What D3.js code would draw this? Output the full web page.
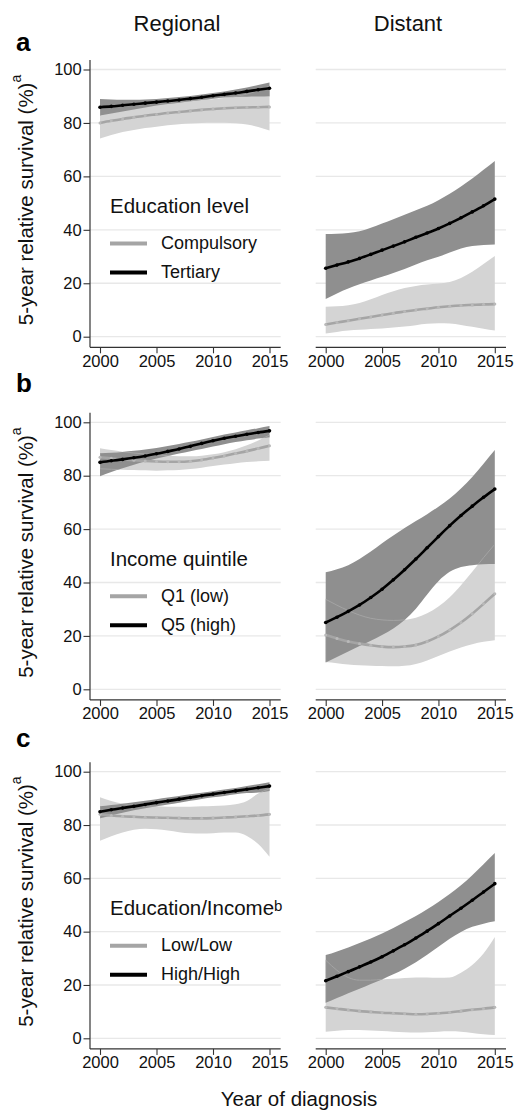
<!DOCTYPE html>
<html>
<head>
<meta charset="utf-8">
<script src="https://cdn.jsdelivr.net/npm/d3@7"></script>
<style>
  html, body { margin: 0; padding: 0; background: #fff; }
  svg { display: block; }
</style>
</head>
<body>
<svg id="chart" width="515" height="1113"></svg>
<script>
// ---------- data: 5-year relative survival (%) by year of diagnosis ----------
const years = [2000, 2001, 2002, 2003, 2004, 2005, 2006, 2007, 2008, 2009, 2010, 2011, 2012, 2013, 2014, 2015];
const xTicks = [2000, 2005, 2010, 2015];
const yTicks = [0, 20, 40, 60, 80, 100];
const columnTitles = ["Regional", "Distant"];

// a) Education level
const eduCompRegEst  = [80.0, 80.8, 81.5, 82.1, 82.7, 83.2, 83.7, 84.1, 84.5, 84.9, 85.2, 85.5, 85.7, 85.8, 85.9, 86.0];
const eduCompRegLo   = [74.2, 75.5, 76.6, 77.4, 78.1, 78.6, 79.1, 79.5, 79.8, 80.0, 80.1, 80.1, 79.9, 79.4, 78.5, 77.2];
const eduCompRegHi   = [85.8, 86.0, 86.3, 86.6, 86.9, 87.3, 87.6, 88.0, 88.3, 88.6, 88.9, 89.3, 89.9, 90.8, 92.1, 93.8];
const eduTertRegEst  = [85.9, 86.2, 86.6, 87.0, 87.4, 87.8, 88.2, 88.6, 89.1, 89.6, 90.2, 90.7, 91.2, 91.8, 92.4, 93.0];
const eduTertRegLo   = [82.8, 83.5, 84.3, 85.0, 85.8, 86.5, 87.1, 87.6, 88.1, 88.6, 89.1, 89.5, 89.7, 89.8, 89.9, 90.0];
const eduTertRegHi   = [89.0, 88.8, 88.7, 88.7, 88.8, 89.0, 89.3, 89.7, 90.1, 90.6, 91.2, 91.8, 92.5, 93.3, 94.2, 95.1];
const eduCompDistEst = [4.6, 5.3, 6.0, 6.7, 7.4, 8.1, 8.8, 9.4, 10.0, 10.5, 11.0, 11.4, 11.7, 11.9, 12.1, 12.2];
const eduCompDistLo  = [1.2, 1.8, 2.3, 2.6, 2.9, 3.1, 3.4, 3.8, 4.3, 4.8, 5.0, 4.9, 4.4, 3.7, 3.0, 2.3];
const eduCompDistHi  = [11.2, 11.4, 11.8, 12.6, 14.0, 15.6, 17.0, 18.2, 19.0, 19.5, 19.9, 20.5, 22.0, 24.3, 27.2, 30.2];
const eduTertDistEst = [25.6, 26.8, 28.0, 29.3, 30.8, 32.4, 33.9, 35.5, 37.2, 38.8, 40.5, 42.4, 44.5, 46.7, 49.0, 51.5];
const eduTertDistLo  = [14.1, 16.2, 18.0, 19.6, 21.0, 22.4, 23.8, 25.3, 27.0, 28.6, 29.9, 31.5, 33.0, 33.9, 34.3, 34.5];
const eduTertDistHi  = [38.4, 38.5, 38.8, 39.5, 40.8, 42.4, 44.0, 45.6, 47.3, 49.0, 51.1, 53.5, 56.2, 59.2, 62.5, 65.8];

// b) Income quintile
const incQ1RegEst  = [86.9, 86.5, 86.1, 85.8, 85.5, 85.3, 85.2, 85.2, 85.4, 85.9, 86.6, 87.4, 88.3, 89.2, 90.2, 91.2];
const incQ1RegLo   = [82.6, 82.4, 82.2, 82.1, 82.0, 81.9, 82.0, 82.1, 82.5, 83.0, 83.6, 84.2, 84.7, 85.1, 85.4, 85.6];
const incQ1RegHi   = [90.3, 89.6, 89.0, 88.5, 88.1, 87.8, 87.5, 87.3, 87.3, 87.5, 88.0, 88.8, 89.9, 91.4, 93.2, 95.2];
const incQ5RegEst  = [85.0, 85.6, 86.1, 86.7, 87.4, 88.2, 89.1, 90.0, 91.0, 92.1, 93.1, 94.0, 94.8, 95.5, 96.2, 96.8];
const incQ5RegLo   = [79.8, 81.4, 82.8, 84.1, 85.3, 86.4, 87.4, 88.3, 89.2, 90.0, 90.9, 91.8, 92.6, 93.3, 93.9, 94.4];
const incQ5RegHi   = [88.4, 88.6, 88.9, 89.3, 89.8, 90.4, 91.1, 91.9, 92.7, 93.6, 94.5, 95.4, 96.2, 97.0, 97.8, 98.6];
const incQ1DistEst = [20.3, 19.0, 17.9, 17.1, 16.5, 16.0, 15.8, 16.0, 16.6, 17.9, 19.8, 22.2, 25.0, 28.3, 32.0, 35.8];
const incQ1DistLo  = [10.2, 9.8, 9.3, 9.0, 8.8, 8.7, 8.6, 8.8, 9.5, 10.8, 12.5, 14.2, 15.7, 16.9, 17.8, 18.4];
const incQ1DistHi  = [33.7, 31.5, 29.5, 27.8, 26.6, 26.0, 25.8, 26.0, 26.8, 28.5, 31.0, 34.5, 39.0, 44.0, 49.3, 54.3];
const incQ5DistEst = [25.0, 27.0, 29.2, 31.6, 34.4, 37.5, 41.0, 44.8, 48.8, 53.0, 57.2, 61.3, 65.1, 68.6, 71.9, 75.0];
const incQ5DistLo  = [10.0, 12.1, 14.2, 16.2, 18.2, 20.3, 22.8, 26.0, 30.2, 35.5, 40.5, 44.0, 45.8, 46.5, 46.8, 46.9];
const incQ5DistHi  = [43.8, 45.0, 46.5, 48.8, 51.6, 54.7, 57.6, 60.4, 63.0, 65.6, 68.4, 71.5, 75.2, 79.5, 84.5, 89.6];

// c) Education/Income combined
const eiLowRegEst   = [84.0, 83.6, 83.3, 83.1, 82.9, 82.8, 82.7, 82.6, 82.5, 82.5, 82.6, 82.8, 83.0, 83.3, 83.6, 84.0];
const eiLowRegLo    = [74.1, 75.8, 77.2, 78.2, 78.6, 78.4, 77.9, 77.3, 76.9, 76.8, 76.9, 77.2, 77.2, 75.9, 72.9, 68.1];
const eiLowRegHi    = [90.4, 89.0, 88.0, 87.5, 87.2, 87.0, 86.9, 86.9, 86.9, 87.0, 87.1, 87.3, 87.8, 89.0, 91.8, 93.6];
const eiHighRegEst  = [85.0, 85.7, 86.4, 87.0, 87.7, 88.4, 89.0, 89.7, 90.3, 91.0, 91.6, 92.2, 92.8, 93.4, 94.0, 94.6];
const eiHighRegLo   = [82.5, 83.6, 84.6, 85.5, 86.3, 87.0, 87.7, 88.4, 89.1, 89.8, 90.4, 90.9, 91.5, 92.0, 92.2, 92.8];
const eiHighRegHi   = [87.0, 87.5, 88.0, 88.5, 89.1, 89.7, 90.3, 90.9, 91.5, 92.1, 92.7, 93.3, 93.9, 94.6, 95.3, 96.0];
const eiLowDistEst  = [11.6, 11.1, 10.6, 10.2, 9.9, 9.6, 9.4, 9.2, 9.0, 9.1, 9.4, 9.7, 10.2, 10.7, 11.1, 11.6];
const eiLowDistLo   = [2.5, 2.8, 3.1, 3.1, 2.9, 2.7, 2.5, 2.3, 2.2, 2.3, 2.5, 2.6, 2.5, 2.0, 1.5, 1.2];
const eiLowDistHi   = [29.3, 25.5, 22.8, 21.8, 21.8, 22.1, 22.3, 22.6, 22.8, 22.8, 22.7, 22.8, 24.6, 27.5, 31.8, 38.0];
const eiHighDistEst = [21.6, 23.3, 25.0, 26.8, 28.6, 30.6, 32.8, 35.1, 37.6, 40.2, 43.0, 45.9, 48.8, 51.8, 54.9, 58.0];
const eiHighDistLo  = [13.3, 15.1, 16.9, 18.6, 20.4, 22.1, 24.0, 26.1, 28.5, 31.3, 34.3, 37.3, 39.9, 41.8, 43.0, 43.9];
const eiHighDistHi  = [31.2, 32.6, 34.1, 35.7, 37.4, 39.3, 41.4, 43.6, 45.9, 48.4, 51.1, 54.1, 57.4, 61.2, 65.3, 69.5];

// ---------- panel definitions ----------
const rows = [
  { letter: "a", legendTitle: "Education level", legendSup: "", labels: ["Compulsory", "Tertiary"],
    panels: [
      { low: [eduCompRegEst, eduCompRegLo, eduCompRegHi], high: [eduTertRegEst, eduTertRegLo, eduTertRegHi] },
      { low: [eduCompDistEst, eduCompDistLo, eduCompDistHi], high: [eduTertDistEst, eduTertDistLo, eduTertDistHi] }
    ] },
  { letter: "b", legendTitle: "Income quintile", legendSup: "", labels: ["Q1 (low)", "Q5 (high)"],
    panels: [
      { low: [incQ1RegEst, incQ1RegLo, incQ1RegHi], high: [incQ5RegEst, incQ5RegLo, incQ5RegHi] },
      { low: [incQ1DistEst, incQ1DistLo, incQ1DistHi], high: [incQ5DistEst, incQ5DistLo, incQ5DistHi] }
    ] },
  { letter: "c", legendTitle: "Education/Income", legendSup: "b", labels: ["Low/Low", "High/High"],
    panels: [
      { low: [eiLowRegEst, eiLowRegLo, eiLowRegHi], high: [eiHighRegEst, eiHighRegLo, eiHighRegHi] },
      { low: [eiLowDistEst, eiLowDistLo, eiLowDistHi], high: [eiHighDistEst, eiHighDistLo, eiHighDistHi] }
    ] }
];

// ---------- layout ----------
const FONT = "'Liberation Sans', Arial, Helvetica, sans-serif";
const rowLayout = [
  { y100: 69.5,  y0: 336.7,  letterY: 50.5 },
  { y100: 422.3, y0: 689.3,  letterY: 392.3 },
  { y100: 771.7, y0: 1038.3, letterY: 746.7 }
];
const colLayout = [
  { x2000: 100,   x2015: 269.5, titleX: 177 },
  { x2000: 325.7, x2015: 494.8, titleX: 408 }
];

const COLORS = {
  lightBand: "#d4d4d4",
  darkBand: "#8f8f8f",
  bandEdge: "#a6a6a6",
  greyLine: "#a5a5a5",
  greyMarker: "#b9b9b9",
  blackLine: "#000000",
  grid: "#e8e8e8",
  axis: "#333333",
  text: "#111111"
};

const svg = d3.select("#chart");
svg.append("rect").attr("width", 515).attr("height", 1113).attr("fill", "#fff");
const defs = svg.append("defs");

// column headings
columnTitles.forEach((t, c) => {
  svg.append("text")
    .attr("x", colLayout[c].titleX).attr("y", 30.7)
    .attr("text-anchor", "middle")
    .attr("font-family", FONT).attr("font-size", 22).attr("fill", COLORS.text)
    .text(t);
});

function toRecords(series) {
  const [est, lo, hi] = series;
  return years.map((yr, i) => ({ yr, est: est[i], lo: lo[i], hi: hi[i] }));
}

let clipId = 0;

rows.forEach((row, r) => {
  const L = rowLayout[r];
  const y = d3.scaleLinear().domain([0, 100]).range([L.y0, L.y100]);
  const plotTop = L.y100 - 9.5;
  const plotBottom = L.y0 + 10.6;

  // panel letter
  svg.append("text")
    .attr("x", 16).attr("y", L.letterY)
    .attr("font-family", FONT).attr("font-weight", "bold").attr("font-size", 26)
    .attr("fill", "#000")
    .text(row.letter);

  // y-axis title
  const yt = svg.append("text")
    .attr("transform", `translate(33.3,${L.y0 - 11.5}) rotate(-90)`)
    .attr("font-family", FONT).attr("font-size", 20.5).attr("fill", COLORS.text);
  yt.append("tspan").text("5-year relative survival (%)");
  yt.append("tspan").attr("font-size", 14).attr("dy", -12).text("a");

  row.panels.forEach((p, c) => {
    const C = colLayout[c];
    const x = d3.scaleLinear().domain([2000, 2015]).range([C.x2000, C.x2015]);
    const plotLeft = C.x2000 - 10;
    const plotRight = C.x2015 + 11.2;
    const g = svg.append("g");

    // horizontal grid lines
    g.selectAll("line.grid").data(yTicks).join("line")
      .attr("class", "grid")
      .attr("x1", plotLeft).attr("x2", plotRight)
      .attr("y1", d => y(d)).attr("y2", d => y(d))
      .attr("stroke", COLORS.grid).attr("stroke-width", 1.3);

    const low = toRecords(p.low);
    const high = toRecords(p.high);

    const band = d3.area()
      .x(d => x(d.yr)).y0(d => y(d.lo)).y1(d => y(d.hi))
      .curve(d3.curveMonotoneX);
    const line = d3.line()
      .x(d => x(d.yr)).y(d => y(d.est))
      .curve(d3.curveMonotoneX);

    // confidence bands
    g.append("path").attr("d", band(low)).attr("fill", COLORS.lightBand);
    g.append("path").attr("d", band(high)).attr("fill", COLORS.darkBand);

    // faint edge of the lighter band where it passes under the darker one
    const id = "darkclip" + (clipId++);
    defs.append("clipPath").attr("id", id).append("path").attr("d", band(high));
    g.append("path").attr("d", band(low))
      .attr("fill", "none").attr("stroke", COLORS.bandEdge).attr("stroke-width", 0.9)
      .attr("clip-path", `url(#${id})`);

    // estimate lines with yearly markers
    g.append("path").attr("d", line(low))
      .attr("fill", "none").attr("stroke", COLORS.greyLine).attr("stroke-width", 2.6);
    g.selectAll("circle.lowpt").data(low).join("circle")
      .attr("class", "lowpt")
      .attr("cx", d => x(d.yr)).attr("cy", d => y(d.est)).attr("r", 1.5)
      .attr("fill", COLORS.greyMarker);

    g.append("path").attr("d", line(high))
      .attr("fill", "none").attr("stroke", COLORS.blackLine).attr("stroke-width", 2.6);
    g.selectAll("circle.highpt").data(high).join("circle")
      .attr("class", "highpt")
      .attr("cx", d => x(d.yr)).attr("cy", d => y(d.est)).attr("r", 1.8)
      .attr("fill", COLORS.blackLine);

    // x axis
    const xa = g.append("g")
      .attr("transform", `translate(0,${plotBottom})`)
      .call(d3.axisBottom(x).tickValues(xTicks).tickFormat(d3.format("d")).tickSize(6).tickPadding(1.5));
    xa.select(".domain").remove();
    xa.selectAll(".tick line").attr("stroke", COLORS.axis).attr("stroke-width", 1.1);
    xa.selectAll(".tick text").attr("font-family", FONT).attr("font-size", 16.5).attr("fill", COLORS.text);
    g.append("line")
      .attr("x1", plotLeft).attr("x2", plotRight)
      .attr("y1", plotBottom).attr("y2", plotBottom)
      .attr("stroke", COLORS.axis).attr("stroke-width", 1.2);

    if (c === 0) {
      // y axis
      const ya = g.append("g")
        .attr("transform", `translate(${plotLeft},0)`)
        .call(d3.axisLeft(y).tickValues(yTicks).tickSize(6.5).tickPadding(1.8));
      ya.select(".domain").remove();
      ya.selectAll(".tick line").attr("stroke", COLORS.axis).attr("stroke-width", 1.1);
      ya.selectAll(".tick text").attr("font-family", FONT).attr("font-size", 16.5).attr("fill", COLORS.text);
      g.append("line")
        .attr("x1", plotLeft).attr("x2", plotLeft)
        .attr("y1", plotTop).attr("y2", plotBottom)
        .attr("stroke", COLORS.axis).attr("stroke-width", 1.2);

      // legend
      const lt = g.append("text")
        .attr("x", 110).attr("y", L.y100 + 143.5)
        .attr("font-family", FONT).attr("font-size", 20.5).attr("fill", COLORS.text);
      lt.append("tspan").text(row.legendTitle);
      if (row.legendSup) lt.append("tspan").attr("font-size", 15).attr("dy", -4).text(row.legendSup);

      const legendColors = [COLORS.greyLine, COLORS.blackLine];
      const legendOffsets = [174, 203];
      row.labels.forEach((lab, k) => {
        const ly = L.y100 + legendOffsets[k];
        g.append("line")
          .attr("x1", 110).attr("x2", 147).attr("y1", ly).attr("y2", ly)
          .attr("stroke", legendColors[k]).attr("stroke-width", 4);
        g.append("text")
          .attr("x", 161).attr("y", ly + 5.5)
          .attr("font-family", FONT).attr("font-size", 18).attr("fill", COLORS.text)
          .text(lab);
      });
    }
  });
});

// shared x-axis title
svg.append("text")
  .attr("x", 299).attr("y", 1106)
  .attr("text-anchor", "middle")
  .attr("font-family", FONT).attr("font-size", 20.5).attr("fill", COLORS.text)
  .text("Year of diagnosis");
</script>
</body>
</html>
